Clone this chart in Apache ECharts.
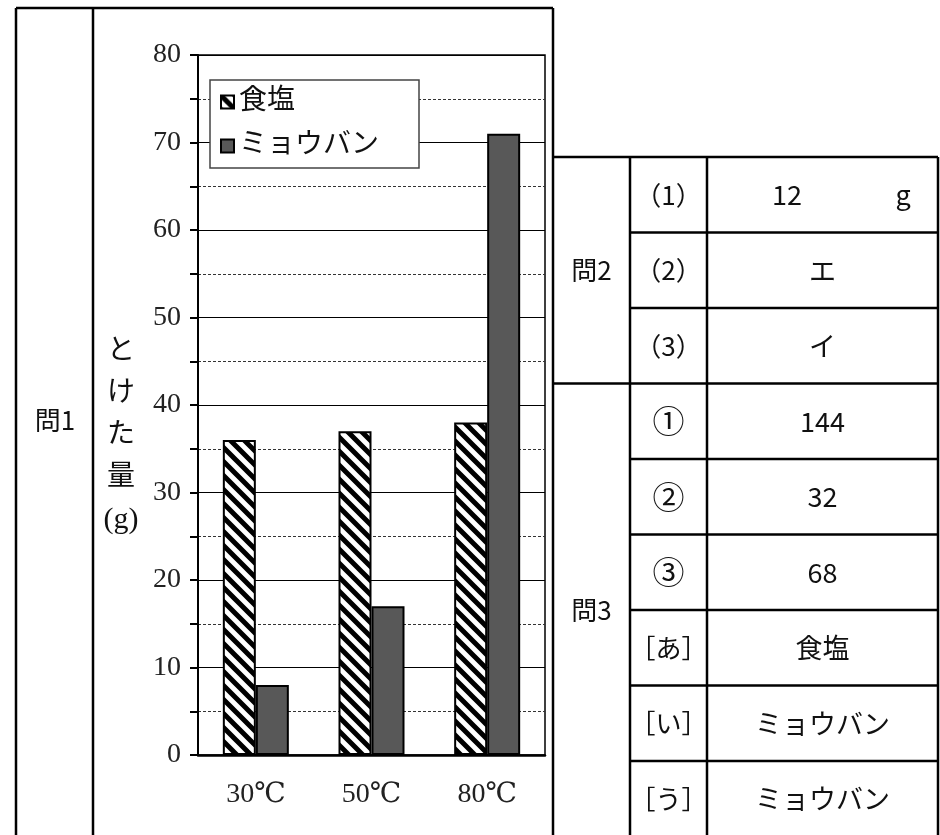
<!DOCTYPE html>
<html>
<head>
<meta charset="utf-8">
<script src="https://cdn.jsdelivr.net/npm/echarts@6/dist/echarts.min.js"></script>
<style>
  html, body { margin: 0; padding: 0; background: #fff; }
  #chart { width: 940px; height: 835px; }
</style>
</head>
<body>
<div id="chart"></div>
<script>
// グラフのデータ
const categories = ['30℃', '50℃', '80℃'];
const saltValues = [36, 37, 38];
const alumValues = [8, 17, 71];
const seriesNames = ['食塩', 'ミョウバン'];

// 解答表のデータ
const q2Labels = ['（1）', '（2）', '（3）'];
const q2Answers = ['12', 'エ', 'イ'];
const q3Labels = ['①', '②', '③', '［あ］', '［い］', '［う］'];
const q3Answers = ['144', '32', '68', '食塩', 'ミョウバン', 'ミョウバン'];

const serif = '"Liberation Serif", "DejaVu Serif", "Noto Sans CJK JP", serif';
const gothic = '"Noto Sans CJK JP", sans-serif';

// 斜線模様
function hatch() {
  const c = document.createElement('canvas');
  c.width = 14; c.height = 14;
  const ctx = c.getContext('2d');
  ctx.fillStyle = '#fff';
  ctx.fillRect(0, 0, 14, 14);
  ctx.strokeStyle = '#000';
  ctx.lineWidth = 5;
  ctx.beginPath();
  ctx.moveTo(-7, -7); ctx.lineTo(21, 21);
  ctx.moveTo(-7, 7); ctx.lineTo(7, 21);
  ctx.moveTo(7, -7); ctx.lineTo(21, 7);
  ctx.stroke();
  return c;
}

function line(x1, y1, x2, y2, w) {
  return { type: 'line', silent: true, shape: { x1: x1, y1: y1, x2: x2, y2: y2 },
    style: { stroke: '#000', lineWidth: w || 2.5 } };
}
function txt(x, y, s, size, font, align) {
  return { type: 'text', silent: true, x: x, y: y,
    style: { text: s, fontSize: size, fontFamily: font, fill: '#111',
      align: align || 'center', verticalAlign: 'middle' } };
}

// 枠と表
const tTop = 157, rowH = 75.5, c1 = 553, c2 = 630, c3 = 707, c4 = 938;
const graphic = [
  line(16, 8, 553, 8), line(16, 8, 16, 835), line(93, 8, 93, 835), line(553, 8, 553, 835),
  line(c1, tTop, c4, tTop), line(c4, tTop, c4, 835),
  line(c2, tTop, c2, 835), line(c3, tTop, c3, 835),
  txt(55, 420, '問1', 26, gothic)
];
const yLabel = ['と', 'け', 'た', '量', '(g)'];
yLabel.forEach(function (s, i) {
  graphic.push(txt(121, 352 + i * 42, s, i === 4 ? 30 : 28, serif));
});
const allLabels = q2Labels.concat(q3Labels);
const allAnswers = q2Answers.concat(q3Answers);
allLabels.forEach(function (s, i) {
  const yc = tTop + rowH * (i + 0.5);
  const y2 = tTop + rowH * (i + 1);
  if (i < allLabels.length - 1) {
    graphic.push(line(i === q2Labels.length - 1 ? c1 : c2, y2, c4, y2));
  }
  const circled = i >= 3 && i <= 5;
  graphic.push(txt((c2 + c3) / 2, yc, s, circled ? 32 : 26, gothic));
  if (i === 0) {
    graphic.push(txt(787, yc, allAnswers[i], 27, gothic));
    graphic.push(txt(903, yc, 'g', 27, gothic));
  } else {
    graphic.push(txt((c3 + c4) / 2, yc, allAnswers[i], 27, gothic));
  }
});
graphic.push(txt((c1 + c2) / 2, tTop + rowH * 1.5, '問2', 26, gothic));
graphic.push(txt((c1 + c2) / 2, tTop + rowH * 6, '問3', 26, gothic));

const myChart = echarts.init(document.getElementById('chart'));
myChart.setOption({
  animation: false,
  backgroundColor: '#fff',
  grid: { left: 198, top: 55, width: 347, height: 700, show: true,
    borderColor: '#000', borderWidth: 1.5, backgroundColor: 'transparent' },
  legend: {
    data: seriesNames,
    orient: 'vertical',
    left: 210, top: 80,
    backgroundColor: '#fff', borderColor: '#444', borderWidth: 1.5,
    padding: [8, 40, 8, 10],
    itemGap: 16,
    itemWidth: 13, itemHeight: 13,
    icon: 'rect',
    textStyle: { fontSize: 28, fontFamily: serif, color: '#111' }
  },
  xAxis: {
    type: 'category',
    data: categories,
    axisLine: { lineStyle: { color: '#000', width: 2.5 } },
    axisTick: { length: 10, lineStyle: { color: '#000', width: 2 } },
    axisLabel: { fontSize: 28, fontFamily: serif, color: '#222', margin: 26 }
  },
  yAxis: {
    type: 'value',
    min: 0, max: 80, interval: 10,
    axisLine: { show: true, lineStyle: { color: '#000', width: 2 } },
    axisTick: { show: true, length: 8, lineStyle: { color: '#000', width: 2 } },
    minorTick: { show: true, splitNumber: 2, length: 8, lineStyle: { color: '#000', width: 2 } },
    splitLine: { lineStyle: { color: '#000', width: 1.2 } },
    minorSplitLine: { show: true, lineStyle: { color: '#333', width: 1, type: [3, 2] } },
    axisLabel: { fontSize: 28, fontFamily: serif, color: '#222', margin: 17 }
  },
  series: [
    {
      name: seriesNames[0], type: 'bar', data: saltValues,
      barWidth: 33, barGap: '0%',
      itemStyle: { color: { image: hatch(), repeat: 'repeat' }, borderColor: '#000', borderWidth: 2 }
    },
    {
      name: seriesNames[1], type: 'bar', data: alumValues,
      barWidth: 33,
      itemStyle: { color: '#585858', borderColor: '#000', borderWidth: 2 }
    }
  ],
  graphic: graphic
});
window.addEventListener('resize', function () { myChart.resize(); });
</script>
</body>
</html>
